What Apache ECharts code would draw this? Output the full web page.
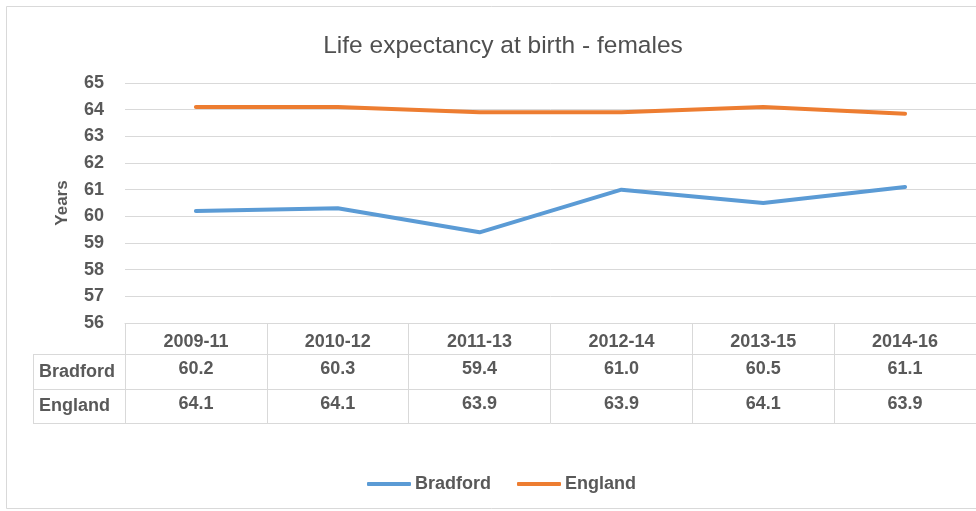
<!DOCTYPE html>
<html>
<head>
<meta charset="utf-8">
<script src="https://cdn.jsdelivr.net/npm/echarts@6/dist/echarts.min.js"></script>
<style>html,body{margin:0;padding:0;background:#fff;}#c{width:976px;height:511px;}</style>
</head>
<body>
<div id="c"></div>
<script>
var titleText = 'Life expectancy at birth - females';
var categories = ['2009-11', '2010-12', '2011-13', '2012-14', '2013-15', '2014-16'];
var seriesNames = ['Bradford', 'England'];
var bradford = [60.2, 60.3, 59.4, 61.0, 60.5, 61.1];
var england = [64.1, 64.1, 63.9, 63.9, 64.1, 63.85];
var englandTable = [64.1, 64.1, 63.9, 63.9, 64.1, 63.9];
var yTicks = { min: 56, max: 65, interval: 1 };
var yName = 'Years';

var FONT = '"Liberation Sans", Arial, sans-serif';
var TXT = '#595959';
var GRID_LINE = '#d9d9d9';
var fmt = function (v) { return v.toFixed(1); };

var chart = echarts.init(document.getElementById('c'), null, { renderer: 'canvas' });

function tableAxis(data, offset, tickLen, margin, showLabel) {
  return {
    type: 'category',
    position: 'bottom',
    gridIndex: 0,
    data: data,
    offset: offset,
    boundaryGap: true,
    axisLine: { show: true, lineStyle: { color: GRID_LINE, width: 1 } },
    axisTick: { show: tickLen > 0, length: tickLen, interval: 0, lineStyle: { color: GRID_LINE, width: 1 } },
    axisLabel: { show: showLabel, interval: 0, margin: margin, fontFamily: FONT, fontSize: 18, fontWeight: 'bold', color: TXT },
    splitLine: { show: false }
  };
}

chart.setOption({
  animation: false,
  backgroundColor: '#fff',
  title: {
    text: titleText,
    left: 498,
    textAlign: 'center',
    top: 29,
    textStyle: { fontFamily: FONT, fontSize: 24.5, fontWeight: 'normal', color: '#505050' }
  },
  legend: {
    data: seriesNames,
    left: 362,
    top: 470,
    icon: 'roundRect',
    itemWidth: 44,
    itemHeight: 4,
    itemGap: 26,
    textStyle: { fontFamily: FONT, fontSize: 18, fontWeight: 'bold', color: TXT, padding: [0, 0, 0, -1] }
  },
  grid: { left: 125, right: 0, top: 83, bottom: 188, containLabel: false },
  xAxis: [
    tableAxis(categories, 0, 31, 10, true),
    tableAxis(bradford.map(fmt), 31, 35, 6, true),
    tableAxis(englandTable.map(fmt), 66, 34, 6, true),
    tableAxis(categories, 100, 0, 0, false)
  ],
  yAxis: {
    type: 'value',
    min: yTicks.min,
    max: yTicks.max,
    interval: yTicks.interval,
    name: yName,
    nameLocation: 'middle',
    nameRotate: 90,
    nameGap: 54,
    nameTextStyle: { fontFamily: FONT, fontSize: 17, fontWeight: 'bold', color: TXT },
    axisLine: { show: false },
    axisTick: { show: false },
    axisLabel: { margin: 21, fontFamily: FONT, fontSize: 18, fontWeight: 'bold', color: TXT },
    splitLine: { show: true, lineStyle: { color: GRID_LINE, width: 1 } }
  },
  series: [
    {
      name: seriesNames[0], type: 'line', data: bradford, xAxisIndex: 0,
      symbol: 'none', smooth: false,
      lineStyle: { color: '#5b9bd5', width: 4, cap: 'round', join: 'round' },
      itemStyle: { color: '#5b9bd5' }
    },
    {
      name: seriesNames[1], type: 'line', data: england, xAxisIndex: 0,
      symbol: 'none', smooth: false,
      lineStyle: { color: '#ed7d31', width: 4, cap: 'round', join: 'round' },
      itemStyle: { color: '#ed7d31' }
    }
  ],
  graphic: [
    { type: 'rect', shape: { x: 6.5, y: 6.5, width: 1000, height: 502 }, style: { fill: 'none', stroke: '#d9d9d9', lineWidth: 1 }, silent: true },
    { type: 'line', shape: { x1: 33.5, y1: 354.5, x2: 33.5, y2: 423.5 }, style: { stroke: GRID_LINE, lineWidth: 1 } },
    { type: 'line', shape: { x1: 33, y1: 354.5, x2: 125, y2: 354.5 }, style: { stroke: GRID_LINE, lineWidth: 1 } },
    { type: 'line', shape: { x1: 33, y1: 389.5, x2: 125, y2: 389.5 }, style: { stroke: GRID_LINE, lineWidth: 1 } },
    { type: 'line', shape: { x1: 33, y1: 423.5, x2: 125, y2: 423.5 }, style: { stroke: GRID_LINE, lineWidth: 1 } },
    { type: 'text', x: 39, y: 372, style: { text: seriesNames[0], fontFamily: FONT, fontSize: 18, fontWeight: 'bold', fill: TXT, textVerticalAlign: 'middle', verticalAlign: 'middle' } },
    { type: 'text', x: 39, y: 406, style: { text: seriesNames[1], fontFamily: FONT, fontSize: 18, fontWeight: 'bold', fill: TXT, textVerticalAlign: 'middle', verticalAlign: 'middle' } }
  ]
});
</script>
</body>
</html>
